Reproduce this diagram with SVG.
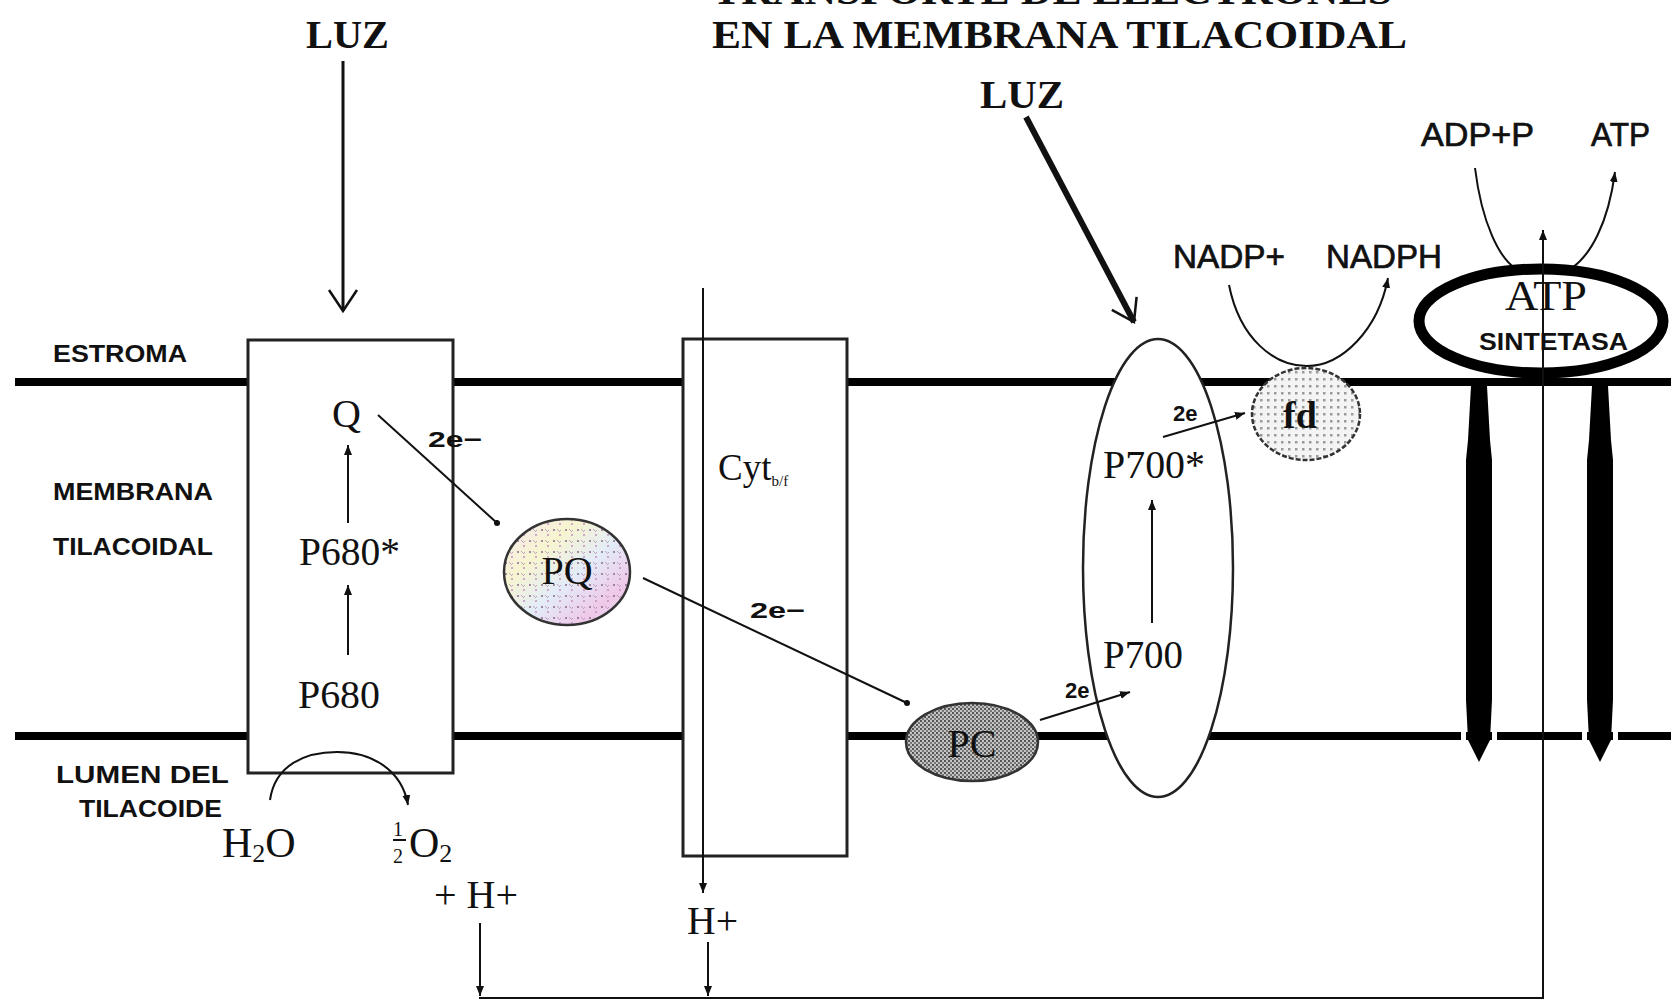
<svg xmlns="http://www.w3.org/2000/svg" width="1671" height="1001" viewBox="0 0 1671 1001">
<style>
.serif{font-family:"Liberation Serif","Times New Roman",serif;fill:#111}
.sans{font-family:"Liberation Sans",Arial,sans-serif;fill:#111}
.b{font-weight:bold}
.hv{stroke:#111;stroke-width:0.7}
.lbl{font-family:"Liberation Sans",Arial,sans-serif;font-weight:bold;font-size:23px;fill:#111}
.thin{fill:none;stroke:#111;stroke-width:2}
.mem{stroke:#000;stroke-width:8}
.box{fill:#fff;stroke:#222;stroke-width:3}
.oval{fill:#fff;stroke:#222;stroke-width:2.5}
</style>
<defs>
<marker id="vopen" viewBox="-2 -17 26 34" refX="21" refY="0" markerWidth="26" markerHeight="34" markerUnits="userSpaceOnUse" orient="auto">
<path d="M0,-14 L21,0 L0,14" fill="none" stroke="#111" stroke-width="2.5"/>
</marker>
<marker id="tri" viewBox="0 0 10 10" refX="10" refY="5" markerWidth="10" markerHeight="10" markerUnits="userSpaceOnUse" orient="auto">
<path d="M0,1 L10,5 L0,9 z" fill="#111"/>
</marker>
<marker id="dot" viewBox="0 0 8 8" refX="4" refY="4" markerWidth="7" markerHeight="7" markerUnits="userSpaceOnUse">
<circle cx="4" cy="4" r="3.5" fill="#111"/>
</marker>
<pattern id="fdpat" width="7" height="7" patternUnits="userSpaceOnUse">
<rect width="7" height="7" fill="#f4f4f4"/>
<rect x="0" y="0" width="2.5" height="2.5" fill="#9a9a9a"/>
</pattern>
<pattern id="pcpat" width="4" height="4" patternUnits="userSpaceOnUse">
<rect width="4" height="4" fill="#c4c4c4"/>
<rect x="0" y="0" width="2" height="2" fill="#555"/>
<rect x="2" y="2" width="2" height="2" fill="#777"/>
</pattern>
<linearGradient id="pqgrad" x1="0" y1="0" x2="1" y2="1">
<stop offset="0" stop-color="#f6e6f4"/>
<stop offset="0.3" stop-color="#f7f5d0"/>
<stop offset="0.55" stop-color="#e3ecf8"/>
<stop offset="0.8" stop-color="#efc8e8"/>
<stop offset="1" stop-color="#dfe6f6"/>
</linearGradient>
<pattern id="pqdots" width="12" height="11" patternUnits="userSpaceOnUse">
<circle cx="2" cy="2" r="1" fill="#8a6b8a"/>
<circle cx="8" cy="7" r="1" fill="#c58fc0"/>
<path d="M5,1 l2,2 M9,2 l-2,2" stroke="#b48fb4" stroke-width="0.8"/>
</pattern>
</defs>
<rect width="1671" height="1001" fill="#fff"/>

<g id="title">
<text class="serif b" x="712" y="4" font-size="40" textLength="680" lengthAdjust="spacingAndGlyphs">TRANSPORTE DE ELECTRONES</text>
<text class="serif b" x="712" y="48" font-size="40" textLength="695" lengthAdjust="spacingAndGlyphs">EN LA MEMBRANA TILACOIDAL</text>
</g>

<g id="labels">
<text class="lbl" x="53" y="362" textLength="134" lengthAdjust="spacingAndGlyphs">ESTROMA</text>
<text class="lbl" x="53" y="500" textLength="160" lengthAdjust="spacingAndGlyphs">MEMBRANA</text>
<text class="lbl" x="53" y="555" textLength="160" lengthAdjust="spacingAndGlyphs">TILACOIDAL</text>
<text class="lbl" x="56" y="783" textLength="173" lengthAdjust="spacingAndGlyphs">LUMEN   DEL</text>
<text class="lbl" x="79" y="817" textLength="143" lengthAdjust="spacingAndGlyphs">TILACOIDE</text>
<text class="serif b" x="306" y="48" font-size="40" textLength="83" lengthAdjust="spacingAndGlyphs">LUZ</text>
<text class="serif b" x="980" y="108" font-size="40" textLength="84" lengthAdjust="spacingAndGlyphs">LUZ</text>
<text class="sans hv" x="1421" y="146" font-size="33" textLength="113" lengthAdjust="spacingAndGlyphs">ADP+P</text>
<text class="sans hv" x="1591" y="146" font-size="33" textLength="59" lengthAdjust="spacingAndGlyphs">ATP</text>
<text class="sans hv" x="1173" y="268" font-size="33" textLength="112" lengthAdjust="spacingAndGlyphs">NADP+</text>
<text class="sans hv" x="1326" y="268" font-size="33" textLength="116" lengthAdjust="spacingAndGlyphs">NADPH</text>
<text class="serif" x="222" y="857" font-size="42">H<tspan font-size="26" dy="5">2</tspan><tspan dy="-5">O</tspan></text>
<text class="serif" x="393" y="836" font-size="20">1</text>
<text class="serif" x="393" y="863" font-size="20">2</text>
<text class="serif" x="409" y="857" font-size="42">O<tspan font-size="26" dy="5">2</tspan></text>
<text class="serif" x="434" y="908" font-size="40" textLength="84" lengthAdjust="spacingAndGlyphs">+ H+</text>
<text class="serif" x="687" y="934" font-size="40" textLength="51" lengthAdjust="spacingAndGlyphs">H+</text>
</g>

<g id="membranes">
<line class="mem" x1="15" y1="382" x2="1671" y2="382"/>
<line class="mem" x1="15" y1="736" x2="1671" y2="736"/>
</g>

<g id="psii">
<rect class="box" x="248" y="340" width="205" height="433"/>
<text class="serif" x="332" y="427" font-size="40">Q</text>
<text class="serif" x="299" y="565" font-size="40" textLength="101" lengthAdjust="spacingAndGlyphs">P680*</text>
<text class="serif" x="298" y="708" font-size="40" textLength="82" lengthAdjust="spacingAndGlyphs">P680</text>
</g>

<g id="cyt">
<rect class="box" x="683" y="339" width="164" height="517"/>
<text class="serif" x="718" y="480" font-size="37">Cyt<tspan font-size="15" dy="6">b/f</tspan></text>
</g>

<g id="pq">
<ellipse cx="567" cy="572" rx="63" ry="53" fill="url(#pqgrad)"/>
<ellipse cx="567" cy="572" rx="63" ry="53" fill="url(#pqdots)" stroke="#333" stroke-width="2.5"/>
<text class="serif" x="567" y="584" font-size="40" text-anchor="middle">PQ</text>
</g>

<g id="pc">
<ellipse cx="972" cy="742" rx="66" ry="39" fill="url(#pcpat)" stroke="#333" stroke-width="2.5"/>
<text class="serif" x="972" y="757" font-size="40" text-anchor="middle">PC</text>
</g>

<g id="psi">
<ellipse class="oval" cx="1158" cy="568" rx="75" ry="229"/>
<text class="serif" x="1103" y="478" font-size="40" textLength="102" lengthAdjust="spacingAndGlyphs">P700*</text>
<text class="serif" x="1103" y="668" font-size="40" textLength="80" lengthAdjust="spacingAndGlyphs">P700</text>
</g>

<g id="fd">
<ellipse cx="1306" cy="414" rx="54" ry="46" fill="url(#fdpat)" stroke="#333" stroke-width="2.5" stroke-dasharray="5 2"/>
<text class="serif b" x="1300" y="428" font-size="38" text-anchor="middle">fd</text>
</g>

<g id="connectors">
<line x1="343" y1="61" x2="343" y2="311" stroke="#111" stroke-width="3" marker-end="url(#vopen)"/>
<line x1="1026" y1="117" x2="1134" y2="322" stroke="#111" stroke-width="6" marker-end="url(#vopen)"/>
<line class="thin" x1="348" y1="523" x2="348" y2="445" marker-end="url(#tri)"/>
<line class="thin" x1="348" y1="655" x2="348" y2="585" marker-end="url(#tri)"/>
<line class="thin" x1="1152" y1="623" x2="1152" y2="500" marker-end="url(#tri)"/>
<line class="thin" x1="378" y1="415" x2="497" y2="523" marker-end="url(#dot)"/>
<line class="thin" x1="643" y1="578" x2="907" y2="703" marker-end="url(#dot)"/>
<line class="thin" x1="1040" y1="720" x2="1130" y2="692" marker-end="url(#tri)"/>
<line class="thin" x1="1163" y1="437" x2="1245" y2="413" marker-end="url(#tri)"/>
<path class="thin" d="M1229,285 C1240,340 1275,366 1307,366 C1342,366 1378,330 1388,278" marker-end="url(#tri)"/>
<path class="thin" d="M270,800 C275,765 305,752 337,752 C372,752 402,770 408,805" marker-end="url(#tri)"/>
<line class="thin" x1="703" y1="288" x2="703" y2="893" marker-end="url(#tri)"/>
<line class="thin" x1="480" y1="923" x2="480" y2="996" marker-end="url(#tri)"/>
<line class="thin" x1="708" y1="942" x2="708" y2="996" marker-end="url(#tri)"/>
<line class="thin" x1="479" y1="998" x2="1544" y2="998"/>
<line class="thin" x1="393" y1="840" x2="406" y2="840"/>
</g>

<g id="electron-labels">
<text class="sans b" x="428" y="447" font-size="22" textLength="54" lengthAdjust="spacingAndGlyphs">2e−</text>
<text class="sans b" x="750" y="618" font-size="22" textLength="55" lengthAdjust="spacingAndGlyphs">2e−</text>
<text class="sans b" x="1173" y="421" font-size="22">2e</text>
<text class="sans b" x="1065" y="698" font-size="22">2e</text>
</g>

<g id="atp-synthase">
<path class="thin" d="M1475,168 C1482,225 1500,258 1515,268 M1572,268 C1590,255 1608,225 1615,172" marker-end="url(#tri)"/>
<path d="M1471,386 L1487,386 L1490,440 L1492,460 L1492,700 L1490,740 L1479,762 L1468,740 L1466,700 L1466,460 L1468,440 Z" fill="#000"/>
<path d="M1592,386 L1608,386 L1611,440 L1613,460 L1613,700 L1611,740 L1600,762 L1589,740 L1587,700 L1587,460 L1589,440 Z" fill="#000"/>
<rect x="1461" y="731" width="5" height="10" fill="#fff"/>
<rect x="1492" y="731" width="5" height="10" fill="#fff"/>
<rect x="1582" y="731" width="5" height="10" fill="#fff"/>
<rect x="1613" y="731" width="5" height="10" fill="#fff"/>
<ellipse cx="1541" cy="321" rx="122" ry="52" fill="#fff" stroke="#000" stroke-width="11"/>
<line class="thin" x1="1543" y1="998" x2="1543" y2="230" marker-end="url(#tri)"/>
<text class="serif" x="1505" y="310" font-size="43" textLength="82" lengthAdjust="spacingAndGlyphs">ATP</text>
<text class="sans b" x="1479" y="350" font-size="24" textLength="149" lengthAdjust="spacingAndGlyphs">SINTETASA</text>
</g>
</svg>
